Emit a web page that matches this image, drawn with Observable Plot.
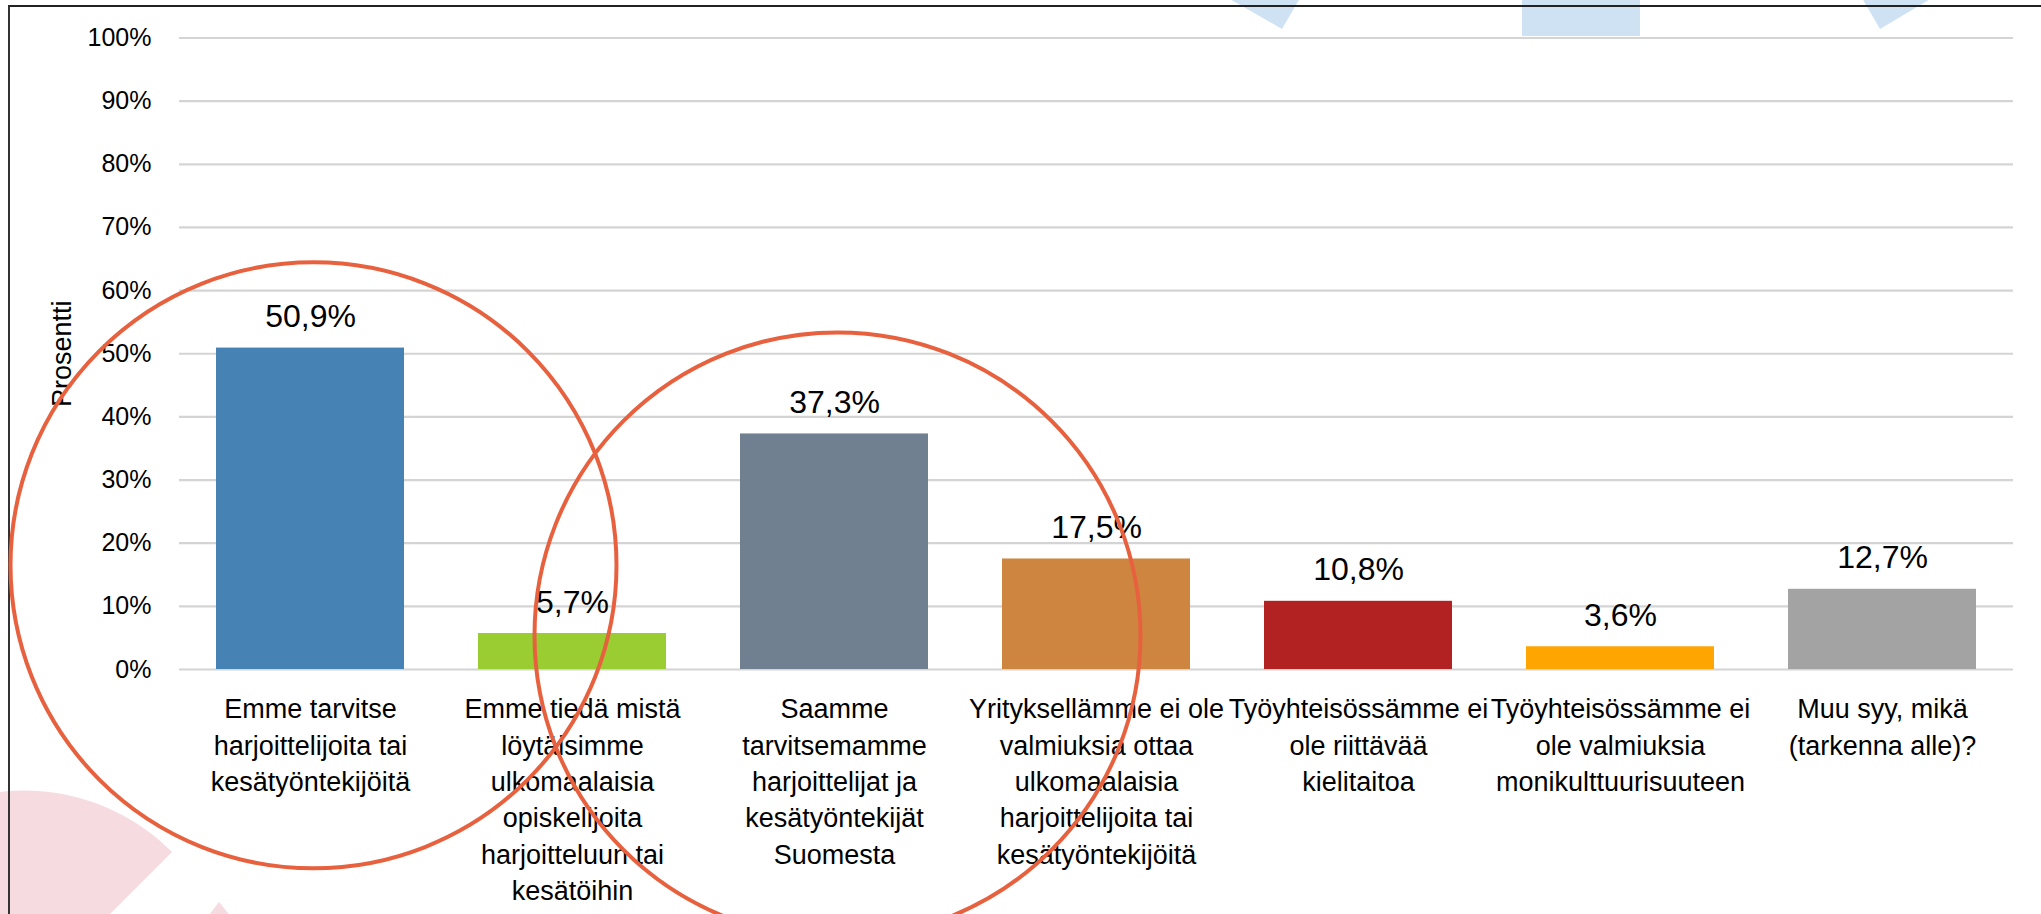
<!DOCTYPE html>
<html>
<head>
<meta charset="utf-8">
<script src="https://cdn.jsdelivr.net/npm/d3@7"></script>
<script src="https://cdn.jsdelivr.net/npm/@observablehq/plot@0.6"></script>
<style>
  html, body { margin: 0; padding: 0; background: #fff; }
  #wrap { position: relative; width: 2041px; height: 914px; overflow: hidden; background: #fff; }
  #deco, #frame, #chart { position: absolute; left: 0; top: 0; }
  #frame { left: 8px; top: 5px; width: 2100px; height: 1000px; border-left: 2px solid #333; border-top: 2px solid #222; box-sizing: border-box; }
</style>
</head>
<body>
<div id="wrap">
  <svg id="deco" width="2041" height="914" aria-hidden="true">
    <path d="M24 1000 L172 852 A209 209 0 0 0 -185 1000 Z" fill="#f6dbe0"/>
    <path d="M219 902 L190 940 L250 940 Z" fill="#f6dbe0"/>
    <path d="M1228 -2 L1300 -2 L1282 29 Z" fill="#cfe2f3"/>
    <rect x="1522" y="-2" width="118" height="38" fill="#cfe2f3"/>
    <path d="M1862 -2 L1932 -2 L1880 29 Z" fill="#cfe2f3"/>
  </svg>
  <div id="frame"></div>
  <div id="chart"></div>
</div>
<script>
// Data
const categories = [
  "Emme tarvitse harjoittelijoita tai kesätyöntekijöitä",
  "Emme tiedä mistä löytäisimme ulkomaalaisia opiskelijoita harjoitteluun tai kesätöihin",
  "Saamme tarvitsemamme harjoittelijat ja kesätyöntekijät Suomesta",
  "Yrityksellämme ei ole valmiuksia ottaa ulkomaalaisia harjoittelijoita tai kesätyöntekijöitä",
  "Työyhteisössämme ei ole riittävää kielitaitoa",
  "Työyhteisössämme ei ole valmiuksia monikulttuurisuuteen",
  "Muu syy, mikä (tarkenna alle)?"
];
const tickLabels = [
  "Emme tarvitse\nharjoittelijoita tai\nkesätyöntekijöitä",
  "Emme tiedä mistä\nlöytäisimme\nulkomaalaisia\nopiskelijoita\nharjoitteluun tai\nkesätöihin",
  "Saamme\ntarvitsemamme\nharjoittelijat ja\nkesätyöntekijät\nSuomesta",
  "Yrityksellämme ei ole\nvalmiuksia ottaa\nulkomaalaisia\nharjoittelijoita tai\nkesätyöntekijöitä",
  "Työyhteisössämme ei\nole riittävää\nkielitaitoa",
  "Työyhteisössämme ei\nole valmiuksia\nmonikulttuurisuuteen",
  "Muu syy, mikä\n(tarkenna alle)?"
];
const values = [50.9, 5.7, 37.3, 17.5, 10.8, 3.6, 12.7];
const yTicks = [0, 10, 20, 30, 40, 50, 60, 70, 80, 90, 100];
const yTickLabels = ["0%", "10%", "20%", "30%", "40%", "50%", "60%", "70%", "80%", "90%", "100%"];
const yLabel = "Prosentti";
// Annotation circles (hand-drawn highlights): category and value at centre
const highlightCategories = [categories[0], categories[2]];
const highlightValues = [16.5, 5.4];

const palette = ["#4682b4", "#9acd32", "#708090", "#cd853f", "#b22222", "#ffa500", "#a3a3a3"];

const rows = categories.map((c, i) => ({category: c, value: values[i]}));
const highlights = highlightCategories.map((c, i) => ({category: c, value: highlightValues[i]}));
const labelOf = new Map(categories.map((c, i) => [c, tickLabels[i]]));
const yLabelOf = new Map(yTicks.map((t, i) => [t, yTickLabels[i]]));
const fmt = v => v.toFixed(1).replace(".", ",") + "%";

const chart = Plot.plot({
  width: 2041,
  height: 914,
  marginLeft: 179,
  marginRight: 28,
  marginTop: 37.5,
  marginBottom: 245,
  style: {background: "transparent", fontFamily: "'Liberation Sans', Arial, sans-serif", color: "#000"},
  x: {domain: categories, paddingInner: 0.282, paddingOuter: 0.141, label: null},
  y: {domain: [0, 100], label: null},
  color: {domain: categories, range: palette},
  marks: [
    Plot.ruleY(yTicks, {stroke: "#d4d4d4", strokeWidth: 2.2}),
    Plot.barY(rows, {x: "category", y: "value", fill: "category"}),
    Plot.axisY({ticks: yTicks, tickFormat: t => yLabelOf.get(t), tickSize: 0, tickPadding: 28, fontSize: 25, label: null}),
    Plot.axisX({tickFormat: c => labelOf.get(c), tickSize: 0, tickPadding: 23, fontSize: 27, lineHeight: 1.345, label: null}),
    Plot.text(rows, {x: "category", y: "value", text: d => fmt(d.value), dy: -21, lineAnchor: "bottom", fontSize: 32, fill: "#000"}),
    Plot.text([yLabel], {frameAnchor: "left", dx: -117, rotate: -90, textAnchor: "middle", fontSize: 27, fill: "#000"}),
    Plot.dot(highlights, {x: "category", y: "value", dx: 3, r: 303, stroke: "#e8613f", strokeWidth: 4, fill: "none"})
  ]
});
document.getElementById("chart").appendChild(chart);
</script>
</body>
</html>
